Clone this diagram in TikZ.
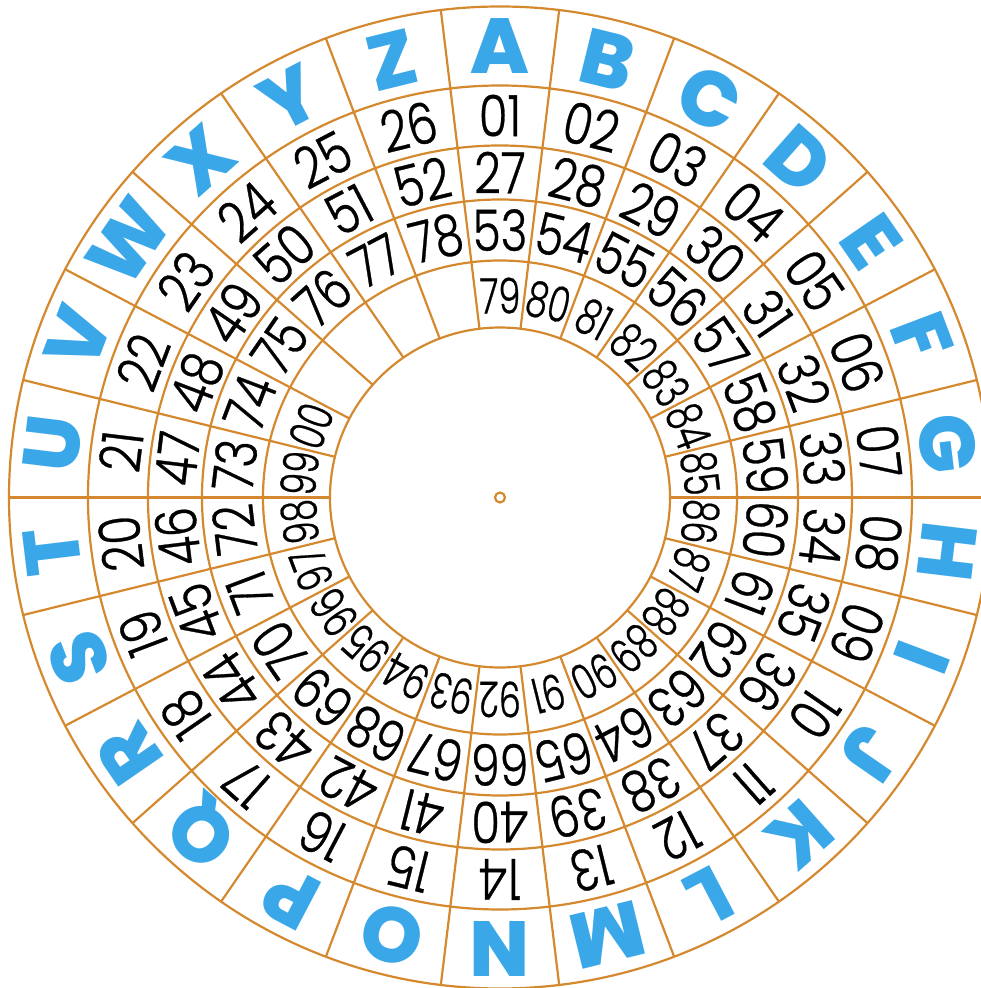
\documentclass[tikz,border=0pt]{standalone}
\usepackage{fontspec}
\setmainfont{Poppins}
\newfontfamily\numfont{Poppins Light}[FakeBold=0.6]
\newfontfamily\letfont{Poppins ExtraBold}
\definecolor{ln}{HTML}{D4892F}
\definecolor{lt}{HTML}{3AA8E8}
\begin{document}
\begin{tikzpicture}[x=1pt,y=1pt,
  ring/.style={draw=ln,line width=2.2pt},
  letter/.style={text=lt,font=\fontsize{78}{78}\letfont,inner sep=0pt,text depth=0pt},
  numa/.style={font=\fontsize{57}{57}\numfont,inner sep=0pt,text depth=0pt},
  numb/.style={font=\fontsize{49}{49}\numfont,inner sep=0pt,text depth=0pt}]
\useasboundingbox (-500,-490.5) rectangle (481,497.5);
\foreach \r [count=\i] in {170,237,298,352,412,491}
  \draw[ring] (0,0) circle (\r) coordinate (c\i);
\foreach \k in {0,...,25}
  \draw[ring] ({90+180/26-\k*360/26}:170) -- ({90+180/26-\k*360/26}:491);
\draw[ring] (0,0) circle (5);
\foreach \L [count=\k from 0] in {A,B,C,D,E,F,G,H,I,J,K,L,M,N,O,P,Q,R,S,T,U,V,W,X,Y,Z}
  \node[letter,rotate={-\k*360/26}] (L\k) at ({90-\k*360/26}:451) {\L};
\foreach \n [count=\k from 0] in {01,02,03,04,05,06,07,08,09,10,11,12,13,14,15,16,17,18,19,20,21,22,23,24,25,26}
  \node[numa,rotate={-\k*360/26}] (a\k) at ({90-\k*360/26}:382) {\scalebox{0.82}[1]{\n}};
\foreach \n [count=\k from 0] in {27,28,29,30,31,32,33,34,35,36,37,38,39,40,41,42,43,44,45,46,47,48,49,50,51,52}
  \node[numa,rotate={-\k*360/26}] (b\k) at ({90-\k*360/26}:325) {\scalebox{0.82}[1]{\n}};
\foreach \n [count=\k from 0] in {53,54,55,56,57,58,59,60,61,62,63,64,65,66,67,68,69,70,71,72,73,74,75,76,77,78}
  \node[numa,rotate={-\k*360/26}] (c\k) at ({90-\k*360/26}:267.5) {\scalebox{0.8}[1]{\n}};
\foreach \n [count=\k from 0] in {79,80,81,82,83,84,85,86,87,88,89,90,91,92,93,94,95,96,97,98,99,00}
  \node[numb,rotate={-\k*360/26}] (d\k) at ({90-\k*360/26}:202) {\scalebox{0.72}[1]{\n}};
\end{tikzpicture}
\end{document}
